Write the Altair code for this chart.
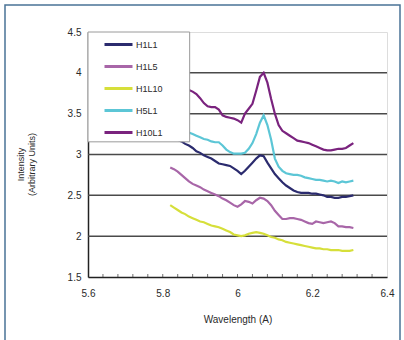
import altair as alt
import pandas as pd

wavelength = [5.82, 5.83, 5.84, 5.85, 5.86, 5.87, 5.88, 5.89, 5.90, 5.91,
              5.92, 5.93, 5.94, 5.95, 5.96, 5.97, 5.98, 5.99, 6.00, 6.01,
              6.02, 6.03, 6.04, 6.05, 6.06, 6.07, 6.08, 6.09, 6.10, 6.11,
              6.12, 6.13, 6.14, 6.15, 6.16, 6.17, 6.18, 6.19, 6.20, 6.21,
              6.22, 6.23, 6.24, 6.25, 6.26, 6.27, 6.28, 6.29, 6.30, 6.31]

H1L1 = [3.22, 3.20, 3.18, 3.16, 3.13, 3.11, 3.08, 3.04, 3.02, 2.99,
        2.97, 2.95, 2.92, 2.89, 2.88, 2.87, 2.86, 2.83, 2.80, 2.76,
        2.80, 2.85, 2.90, 2.95, 2.99, 2.98, 2.90, 2.83, 2.76, 2.71,
        2.66, 2.62, 2.59, 2.56, 2.54, 2.53, 2.53, 2.53, 2.52, 2.52,
        2.51, 2.50, 2.48, 2.48, 2.47, 2.47, 2.48, 2.48, 2.49, 2.50]

H1L5 = [2.84, 2.82, 2.79, 2.75, 2.71, 2.67, 2.64, 2.62, 2.60, 2.57,
        2.55, 2.53, 2.51, 2.49, 2.46, 2.44, 2.41, 2.38, 2.36, 2.39,
        2.43, 2.42, 2.40, 2.44, 2.47, 2.46, 2.43, 2.38, 2.31, 2.26,
        2.21, 2.21, 2.22, 2.22, 2.21, 2.20, 2.18, 2.16, 2.15, 2.18,
        2.17, 2.16, 2.17, 2.18, 2.16, 2.12, 2.12, 2.11, 2.11, 2.10]

H1L10 = [2.38, 2.35, 2.32, 2.29, 2.27, 2.24, 2.22, 2.20, 2.18, 2.17,
         2.15, 2.13, 2.12, 2.11, 2.09, 2.07, 2.05, 2.02, 2.01, 2.00,
         2.01, 2.03, 2.04, 2.05, 2.04, 2.03, 2.01, 1.99, 1.98, 1.96,
         1.95, 1.93, 1.92, 1.91, 1.90, 1.89, 1.88, 1.87, 1.86, 1.85,
         1.85, 1.84, 1.84, 1.83, 1.83, 1.83, 1.82, 1.82, 1.82, 1.83]

H5L1 = [3.35, 3.33, 3.31, 3.29, 3.28, 3.27, 3.25, 3.23, 3.21, 3.19,
        3.18, 3.16, 3.15, 3.15, 3.11, 3.06, 3.03, 3.01, 3.01, 3.01,
        3.02, 3.07, 3.14, 3.25, 3.39, 3.48, 3.36, 3.18, 2.95, 2.85,
        2.80, 2.77, 2.76, 2.75, 2.75, 2.74, 2.72, 2.71, 2.70, 2.69,
        2.69, 2.68, 2.67, 2.68, 2.67, 2.65, 2.67, 2.66, 2.67, 2.68]

H10L1 = [3.95, 3.92, 3.88, 3.85, 3.82, 3.79, 3.77, 3.74, 3.69, 3.63,
         3.59, 3.58, 3.58, 3.55, 3.48, 3.46, 3.45, 3.44, 3.42, 3.39,
         3.50, 3.56, 3.62, 3.78, 3.95, 4.00, 3.88, 3.68, 3.50, 3.36,
         3.29, 3.26, 3.23, 3.20, 3.17, 3.16, 3.15, 3.14, 3.12, 3.10,
         3.08, 3.06, 3.05, 3.05, 3.06, 3.07, 3.07, 3.08, 3.11, 3.14]

series_names = ["H1L1", "H1L5", "H1L10", "H5L1", "H10L1"]
series_colors = ["#2b2b6e", "#a866a8", "#d6df3a", "#5cc6d6", "#7a237e"]

x_ticks = [5.6, 5.8, 6.0, 6.2, 6.4]
x_minor = [5.64, 5.68, 5.72, 5.76, 5.8, 5.84, 5.88, 5.92, 5.96, 6.0,
           6.04, 6.08, 6.12, 6.16, 6.2, 6.24, 6.28, 6.32, 6.36]
y_ticks = [1.5, 2.0, 2.5, 3.0, 3.5, 4.0, 4.5]
grid_values = [2.0, 2.5, 3.0, 3.5, 4.0]
legend_box_x = [5.6, 5.872]
legend_box_y = [3.155, 4.5]

rows = []
for name, vals in zip(series_names, [H1L1, H1L5, H1L10, H5L1, H10L1]):
    for w, v in zip(wavelength, vals):
        rows.append({"Wavelength": w, "Intensity": v, "Series": name})
df = pd.DataFrame(rows)

FONT = "Liberation Sans"
xscale = alt.Scale(domain=[5.6, 6.4], nice=False, zero=False)
yscale = alt.Scale(domain=[1.5, 4.5], nice=False, zero=False)
Y_TITLE = ["Intensity", "(Arbitrary Units)"]

x_axis = alt.Axis(values=x_ticks, format="~g", title="Wavelength (A)",
                  grid=False, ticks=False, orient="bottom", labelFlush=False,
                  domainColor="#222222", domainWidth=1.5,
                  labelFontSize=10, labelColor="#2a2a2a", labelPadding=11,
                  titleFontSize=10, titleFontWeight="normal",
                  titleColor="#2a2a2a", titlePadding=16)
y_axis = alt.Axis(values=y_ticks, format="~g", title=Y_TITLE,
                  grid=False, ticks=False, labelFlush=False,
                  domainColor="#222222", domainWidth=1.5,
                  labelFontSize=10, labelColor="#2a2a2a", labelPadding=7,
                  titleFontSize=9, titleFontWeight="normal",
                  titleColor="#2a2a2a", titleLineHeight=11,
                  titleAngle=-90, titleX=-72, titleY=132,
                  titleAlign="center", titleBaseline="top")

grid = alt.Chart(pd.DataFrame({"g": grid_values})).mark_rule(
    color="#4a4a4a", strokeWidth=1.5
).encode(y=alt.Y("g:Q", scale=yscale, axis=y_axis, title=Y_TITLE))

lines = alt.Chart(df).mark_line(strokeWidth=2.2).encode(
    x=alt.X("Wavelength:Q", scale=xscale, axis=x_axis),
    y=alt.Y("Intensity:Q", scale=yscale, axis=y_axis, title=Y_TITLE),
    color=alt.Color("Series:N",
                    scale=alt.Scale(domain=series_names, range=series_colors),
                    legend=alt.Legend(orient="none", legendX=15, legendY=-3,
                                      title=None, symbolType="stroke",
                                      symbolStrokeWidth=3, symbolSize=784,
                                      labelFontSize=9, labelColor="#2a2a2a",
                                      labelOffset=2, rowPadding=0,
                                      padding=0)),
)

box = alt.Chart(pd.DataFrame({"x": [legend_box_x[0]], "x2": [legend_box_x[1]],
                              "y": [legend_box_y[0]], "y2": [legend_box_y[1]]})).mark_rect(
    fill="white", stroke="#9a9a9a", strokeWidth=1
).encode(x=alt.X("x:Q", scale=xscale, axis=None), x2="x2:Q",
         y=alt.Y("y:Q", scale=yscale, axis=y_axis, title=Y_TITLE),
         y2="y2:Q")

minor = alt.Chart(pd.DataFrame({"t": x_minor, "b": [1.5] * len(x_minor)})).mark_tick(
    orient="vertical", size=6, thickness=1, color="#333333", clip=True
).encode(
    x=alt.X("t:Q", scale=xscale, axis=None),
    y=alt.Y("b:Q", scale=yscale, axis=y_axis, title=Y_TITLE),
)

frame = alt.Chart(pd.DataFrame({"a": [0]})).mark_rect(
    fill=None, stroke="#4a7396", strokeWidth=1.5
).encode(x=alt.value(-83), x2=alt.value(312), y=alt.value(-27), y2=alt.value(313))

chart = alt.layer(grid, lines, minor, box, frame).resolve_axis(
    x="independent"
).properties(
    width=299, height=245,
    padding={"left": 88, "top": 32, "right": 17, "bottom": 63},
    autosize=alt.AutoSizeParams(type="none"),
    background="white",
).configure_view(stroke="#b5b5b5", strokeWidth=1).configure(font=FONT)

chart.save("out.html", embed_options={"renderer": "svg", "actions": False})
